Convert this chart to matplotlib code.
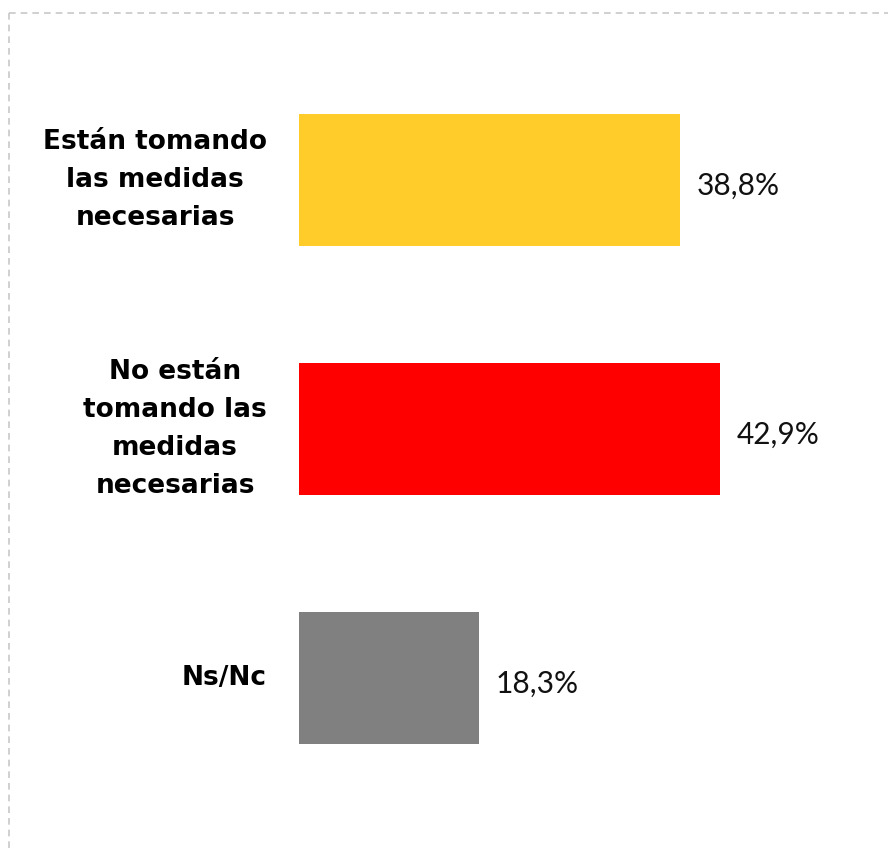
import matplotlib
matplotlib.use("Agg")
import matplotlib.pyplot as plt
from matplotlib.lines import Line2D

categories = [
    "Están tomando\nlas medidas\nnecesarias",
    "No están\ntomando las\nmedidas\nnecesarias",
    "Ns/Nc",
]
values = [38.8, 42.9, 18.3]
value_labels = ["38,8%", "42,9%", "18,3%"]
colors = ["#FFCC29", "#FF0000", "#808080"]

W, H = 888, 852
fig = plt.figure(figsize=(W / 100, H / 100), dpi=100)
left = 299 / W
ax = fig.add_axes([left, 0, 1 - left, 1])

pos = list(range(len(values)))
ax.barh(pos, values, height=0.53, color=colors)
ax.set_xlim(0, 60)
ax.set_ylim(852 / 249 - 180 / 249, -180 / 249)

for y, v, lab in zip(pos, values, value_labels):
    ax.annotate(lab, xy=(v, y), xytext=(12, -4), textcoords="offset points",
                ha="left", va="center", fontsize=21.5, family="Lato",
                fontweight="normal", color="#111111")

ax.set_yticks(pos)
ax.set_yticklabels(categories, fontsize=19, fontweight="bold",
                   family="DejaVu Sans", linespacing=1.6)
for t in ax.get_yticklabels():
    t.set_multialignment("center")
    t.set_verticalalignment("center")
ax.tick_params(axis="y", length=0, pad=23)
ax.set_xticks([])
for s in ax.spines.values():
    s.set_visible(False)

# dashed frame around the slide area
dash = dict(color="#c8c8c8", linestyle=(0, (4, 3)), linewidth=1.2)
fig.add_artist(Line2D([9 / W, 1], [1 - 13 / H, 1 - 13 / H], transform=fig.transFigure, **dash))
fig.add_artist(Line2D([9 / W, 9 / W], [1 - 13 / H, 0], transform=fig.transFigure, **dash))

fig.savefig("out.png", dpi=100)
